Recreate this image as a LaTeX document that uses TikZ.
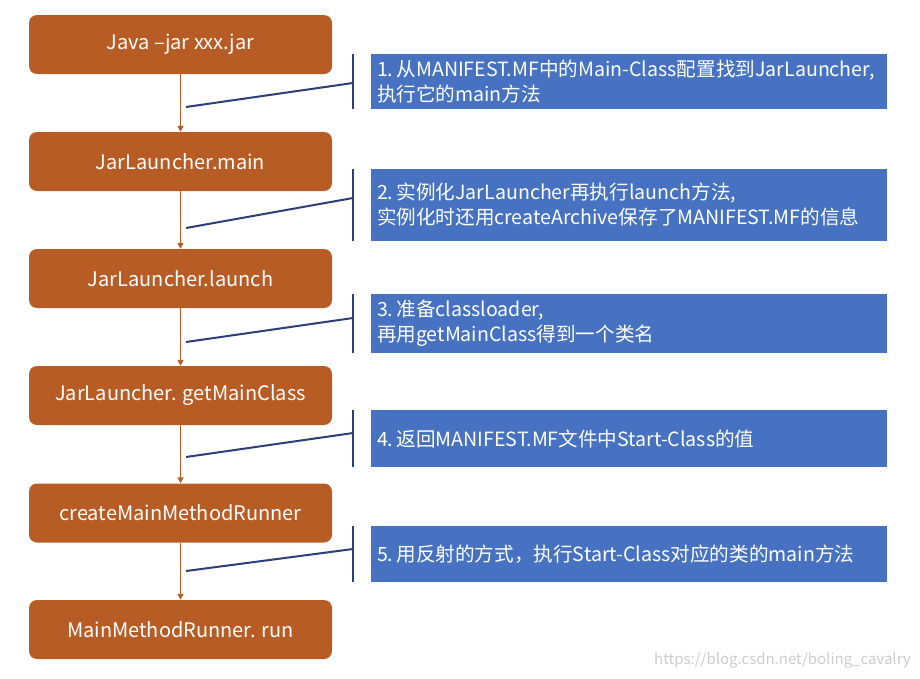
\documentclass[tikz,border=0pt]{standalone}
\usepackage{fontspec}
\setmainfont{Noto Sans CJK SC}
\usetikzlibrary{arrows.meta}
\definecolor{boxorange}{RGB}{184,92,38}
\definecolor{boxblue}{RGB}{70,114,193}
\definecolor{navy}{RGB}{46,62,118}
\definecolor{wm}{RGB}{205,205,205}
\begin{document}
\begin{tikzpicture}[x=1pt,y=-1pt,
  obox/.style={fill=boxorange,rounded corners=8pt,minimum width=303pt,minimum height=59pt,
    text=white,font=\fontsize{20}{24}\selectfont,inner sep=0pt},
  cbox/.style={fill=boxblue,minimum width=516pt,text width=504pt,align=left,
    text=white,font=\fontsize{19.6}{25}\selectfont,inner sep=6pt},
  arr/.style={draw=boxorange,line width=1.5pt,-{Triangle[length=6pt,width=6pt]}},
  brk/.style={draw=navy,line width=2pt},
  lead/.style={draw=navy,line width=2pt},
]
\useasboundingbox (0,0) rectangle (920,678);
\fill[white] (0,0) rectangle (920,678);
% flow boxes
\node[obox] (b1) at (180.5,44.5) {Java –jar xxx.jar};
\node[obox] (b2) at (180.5,161.5) {JarLauncher.main};
\node[obox] (b3) at (180.5,278.5) {JarLauncher.launch};
\node[obox] (b4) at (180.5,395.5) {JarLauncher. getMainClass};
\node[obox] (b5) at (180.5,513) {createMainMethodRunner};
\node[obox] (b6) at (180.5,629.5) {MainMethodRunner. run};
% arrows
\draw[arr] (b1) -- (b2);
\draw[arr] (b2) -- (b3);
\draw[arr] (b3) -- (b4);
\draw[arr] (b4) -- (b5);
\draw[arr] (b5) -- (b6);
% callouts
\node[cbox,minimum height=55pt] (c1) at (629,81.5) {1.\,从MANIFEST.MF中的Main-Class配置找到JarLauncher,\\执行它的main方法};
\node[cbox,minimum height=72pt] (c2) at (629,205) {2.\,实例化JarLauncher再执行launch方法,\\实例化时还用createArchive保存了MANIFEST.MF的信息};
\node[cbox,minimum height=57pt] (c3) at (629,323.5) {3.\,准备classloader,\\再用getMainClass得到一个类名};
\node[cbox,minimum height=57pt] (c4) at (629,438.5) {4.\,返回MANIFEST.MF文件中Start-Class的值};
\node[cbox,minimum height=56pt] (c5) at (629,554) {5.\,用反射的方式，执行Start-Class对应的类的main方法};
% brackets
\foreach \i in {1,...,5}{
  \draw[brk] ([xshift=-18pt]c\i.north west) -- ([xshift=-18pt]c\i.south west);
}
% leader lines
\coordinate (k1) at (353,83);  \coordinate (t1) at (186,107);
\coordinate (k2) at (353,198); \coordinate (t2) at (186,228);
\coordinate (k3) at (353,318); \coordinate (t3) at (186,342);
\coordinate (k4) at (353,433); \coordinate (t4) at (186,457);
\coordinate (k5) at (353,549); \coordinate (t5) at (186,571);
\foreach \i in {1,...,5}{
  \draw[lead] (k\i) -- (t\i);
}
% watermark
\node[anchor=east,text=wm,font=\fontsize{15}{18}\selectfont,inner sep=0pt] (wmk) at (911,660) {https://blog.csdn.net/boling\_cavalry};
\end{tikzpicture}
\end{document}
